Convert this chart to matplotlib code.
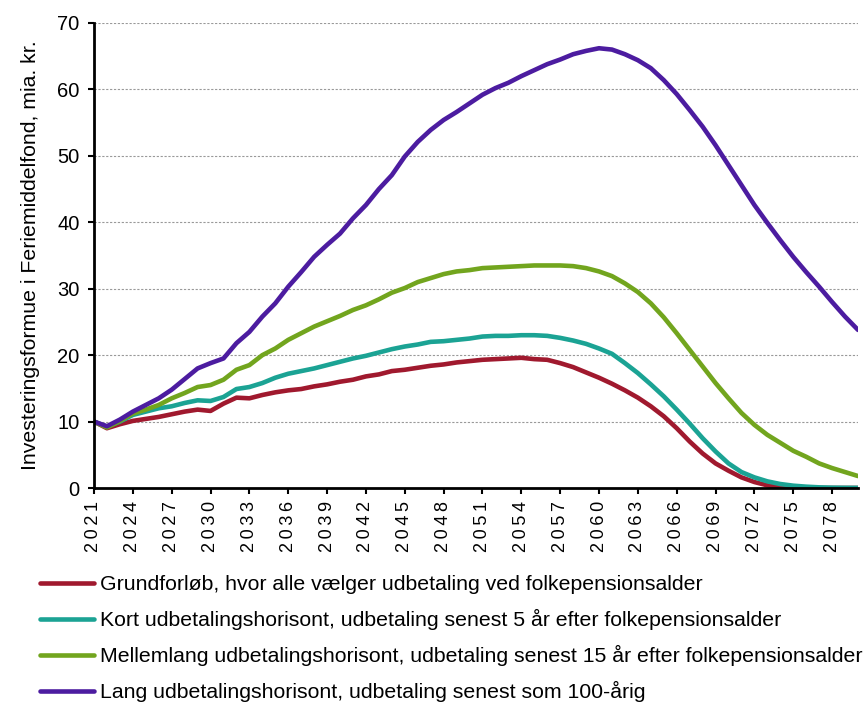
import matplotlib
matplotlib.use("Agg")
import matplotlib.pyplot as plt
import numpy as np

plt.rcParams['font.family'] = ['Liberation Sans', 'DejaVu Sans']

years = list(range(2021, 2081))

grundforloeb = [10.0, 9.0, 9.6, 10.1, 10.4, 10.7, 11.1, 11.5, 11.8, 11.6,
                12.7, 13.6, 13.5, 14.0, 14.4, 14.7, 14.9, 15.3, 15.6, 16.0,
                16.3, 16.8, 17.1, 17.6, 17.8, 18.1, 18.4, 18.6, 18.9, 19.1,
                19.3, 19.4, 19.5, 19.6, 19.4, 19.3, 18.8, 18.2, 17.4, 16.6,
                15.7, 14.7, 13.6, 12.3, 10.8, 9.0, 7.0, 5.2, 3.7, 2.6,
                1.6, 0.9, 0.4, 0.2, 0.1, 0.05, 0.0, 0.0, 0.0, 0.0]

kort = [10.0, 9.2, 10.0, 11.0, 11.5, 12.0, 12.3, 12.8, 13.2, 13.1,
        13.7, 14.9, 15.2, 15.8, 16.6, 17.2, 17.6, 18.0, 18.5, 19.0,
        19.5, 19.9, 20.4, 20.9, 21.3, 21.6, 22.0, 22.1, 22.3, 22.5,
        22.8, 22.9, 22.9, 23.0, 23.0, 22.9, 22.6, 22.2, 21.7, 21.0,
        20.2, 18.8, 17.3, 15.6, 13.8, 11.8, 9.7, 7.5, 5.5, 3.7,
        2.4, 1.6, 1.0, 0.6, 0.35, 0.2, 0.1, 0.05, 0.03, 0.02]

mellemlang = [10.0, 9.1, 10.1, 11.2, 11.8, 12.5, 13.5, 14.3, 15.2, 15.5,
              16.3, 17.8, 18.5, 20.0, 21.0, 22.3, 23.3, 24.3, 25.1, 25.9,
              26.8, 27.5, 28.4, 29.4, 30.1, 31.0, 31.6, 32.2, 32.6, 32.8,
              33.1, 33.2, 33.3, 33.4, 33.5, 33.5, 33.5, 33.4, 33.1, 32.6,
              31.9, 30.8, 29.5, 27.8, 25.7, 23.3, 20.8, 18.3, 15.8, 13.5,
              11.3, 9.5, 8.0, 6.8, 5.6, 4.7, 3.7, 3.0, 2.4, 1.8]

lang = [10.0, 9.3, 10.3, 11.5, 12.5, 13.5, 14.8, 16.4, 18.0, 18.8,
        19.5, 21.8, 23.5, 25.8, 27.8, 30.3, 32.5, 34.8, 36.6, 38.3,
        40.6, 42.6, 45.0, 47.1, 49.9, 52.1, 53.9, 55.4, 56.6, 57.9,
        59.2, 60.2, 61.0, 62.0, 62.9, 63.8, 64.5, 65.3, 65.8, 66.2,
        66.0, 65.3, 64.4, 63.2, 61.4, 59.3, 56.9, 54.4, 51.6, 48.6,
        45.6, 42.6, 39.9, 37.3, 34.8, 32.5, 30.3, 28.0, 25.8, 23.8]

labels = ["Grundforløb, hvor alle vælger udbetaling ved folkepensionsalder",
          "Kort udbetalingshorisont, udbetaling senest 5 år efter folkepensionsalder",
          "Mellemlang udbetalingshorisont, udbetaling senest 15 år efter folkepensionsalder",
          "Lang udbetalingshorisont, udbetaling senest som 100-årig"]
colors = ["#A0192E", "#1BA394", "#72A51E", "#4C1CA0"]

fig = plt.figure(figsize=(8.67, 7.08), dpi=100)
ax = fig.add_axes([94/867, 1 - 488/708, (858 - 94)/867, (488 - 23)/708])

for series, lab, col in zip([grundforloeb, kort, mellemlang, lang], labels, colors):
    ax.plot(years, series, color=col, lw=3.3, label=lab, solid_capstyle='round')

ax.set_xlim(2021, 2080)
ax.set_ylim(0, 70)
ax.set_yticks(range(0, 71, 10))
xt = list(range(2021, 2079, 3))
ax.set_xticks(xt)
# spaced digits like the original
ax.set_xticklabels(["\u2009".join(str(y)) for y in xt], rotation=90, fontsize=13)
ax.tick_params(axis='y', labelsize=14.5, direction='out', length=4.5, width=1.5, pad=6)
ax.tick_params(axis='x', direction='out', length=4.5, width=1.5, pad=5)
ax.grid(axis='y', color='#999999', ls=(0, (2, 1.5)), lw=0.8)
ax.set_axisbelow(True)
for s in ['top', 'right']:
    ax.spines[s].set_visible(False)
for s in ['left', 'bottom']:
    ax.spines[s].set_linewidth(2)
ax.set_ylabel("Investeringsformue i Feriemiddelfond, mia. kr.", fontsize=15.3, labelpad=12)

ax.legend(loc='upper left', bbox_to_anchor=(40/867, 1 - 575/708), bbox_transform=fig.transFigure,
          frameon=False, fontsize=15.3, handlelength=2.55, handletextpad=0.25,
          labelspacing=0.71, borderpad=0, borderaxespad=0)

fig.savefig("out.png", dpi=100)
